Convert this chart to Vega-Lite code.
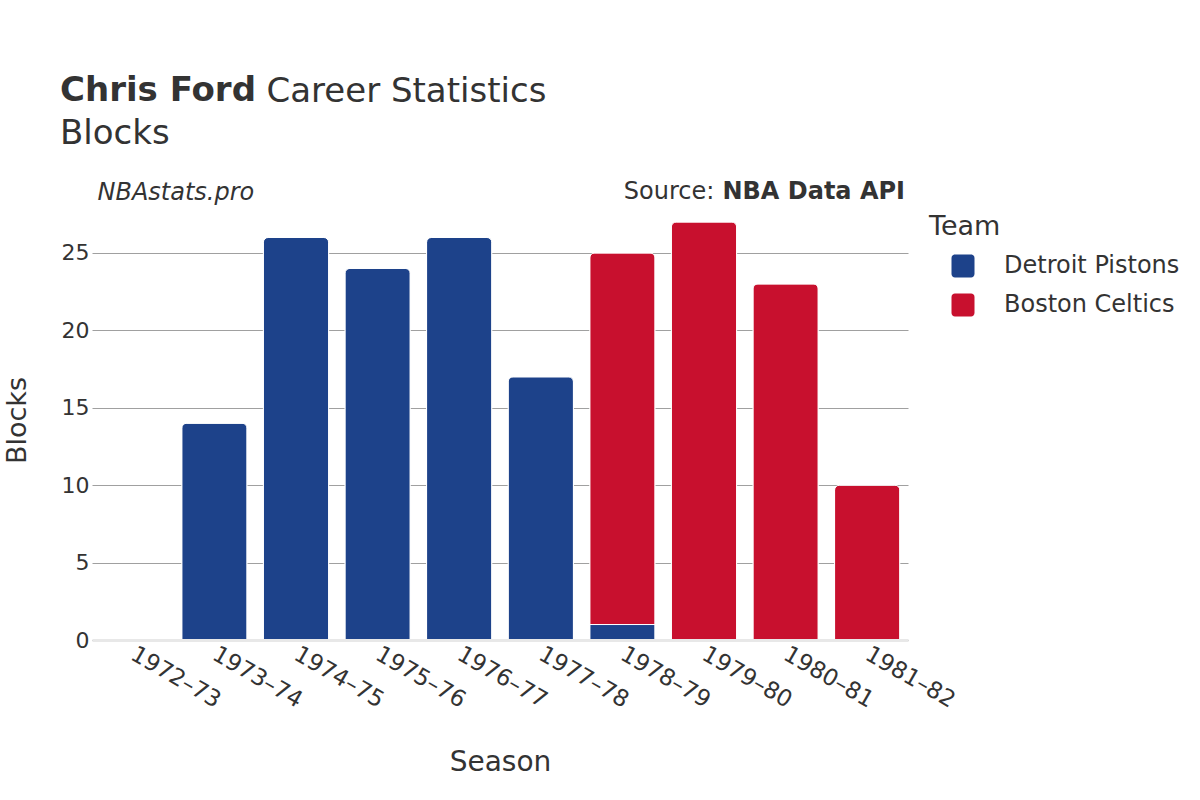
{
  "$schema": "https://vega.github.io/schema/vega-lite/v6.json",
  "autosize": {"type": "pad"},
  "padding": {"left": 3, "top": 74, "right": 0, "bottom": 0},
  "background": "white",
  "bounds": "flush",
  "spacing": 0,
  "title": {
    "text": "Chris Ford",
    "subtitle": "Blocks",
    "anchor": "start",
    "frame": "group",
    "font": "DejaVu Sans",
    "fontSize": 34,
    "fontWeight": "bold",
    "color": "#333333",
    "subtitleFont": "DejaVu Sans",
    "subtitleFontSize": 34,
    "subtitleFontWeight": "normal",
    "subtitleColor": "#333333",
    "subtitlePadding": 9,
    "dx": -32,
    "dy": 81
  },
  "vconcat": [
    {
      "width": 816,
      "height": 440,
      "title": {
        "text": "NBA Data API",
        "subtitle": "Source:\u00a0\u00a0\u00a0\u00a0\u00a0\u00a0\u00a0\u00a0\u00a0\u00a0\u00a0\u00a0\u00a0\u00a0\u00a0\u00a0\u00a0\u00a0\u00a0\u00a0\u00a0\u00a0\u00a0\u00a0\u00a0\u200b",
        "anchor": "end",
        "frame": "group",
        "font": "DejaVu Sans",
        "fontSize": 24,
        "fontWeight": "bold",
        "color": "#333333",
        "subtitleFont": "DejaVu Sans",
        "subtitleFontSize": 24,
        "subtitleFontWeight": "normal",
        "subtitleColor": "#333333",
        "subtitlePadding": -24,
        "dx": -3,
        "dy": 134
      },
      "data": {
        "values": [
          {"season": "1972–73", "team": "Detroit Pistons", "blocks": 0},
          {"season": "1973–74", "team": "Detroit Pistons", "blocks": 14},
          {"season": "1974–75", "team": "Detroit Pistons", "blocks": 26},
          {"season": "1975–76", "team": "Detroit Pistons", "blocks": 24},
          {"season": "1976–77", "team": "Detroit Pistons", "blocks": 26},
          {"season": "1977–78", "team": "Detroit Pistons", "blocks": 17},
          {"season": "1978–79", "team": "Detroit Pistons", "blocks": 1},
          {"season": "1978–79", "team": "Boston Celtics", "blocks": 24},
          {"season": "1979–80", "team": "Boston Celtics", "blocks": 27},
          {"season": "1980–81", "team": "Boston Celtics", "blocks": 23},
          {"season": "1981–82", "team": "Boston Celtics", "blocks": 10}
        ]
      },
      "layer": [
        {
          "mark": {"type": "bar", "cornerRadiusTopLeft": 5, "cornerRadiusTopRight": 5, "stroke": "white", "strokeWidth": 1},
          "encoding": {
            "x": {
              "field": "season",
              "type": "nominal",
              "scale": {"paddingInner": 0.2, "paddingOuter": 0.1},
              "axis": {
                "title": "Season",
                "labelAngle": 30,
                "labelAlign": "left",
                "labelBaseline": "middle",
                "labelPadding": 12,
                "labelFont": "DejaVu Sans",
                "labelFontSize": 23,
                "labelColor": "#333333",
                "ticks": false,
                "tickSize": 0,
                "domainColor": "#e8e8e8",
                "domainWidth": 3,
                "titleFont": "DejaVu Sans",
                "titleFontSize": 28,
                "titleFontWeight": "normal",
                "titleColor": "#333333",
                "titleX": 408,
                "titleY": 130,
                "titleAlign": "center",
                "titleBaseline": "alphabetic",
                "zindex": 1
              }
            },
            "y": {
              "field": "blocks",
              "type": "quantitative",
              "stack": "zero",
              "scale": {"domain": [0, 28.42], "nice": false, "zero": true},
              "axis": {
                "title": "Blocks",
                "values": [0, 5, 10, 15, 20, 25],
                "labelFont": "DejaVu Sans",
                "labelFontSize": 22,
                "labelColor": "#333333",
                "labelPadding": 3,
                "ticks": false,
                "tickSize": 0,
                "domain": false,
                "gridColor": "#a0a0a0",
                "gridWidth": 1,
                "titleFont": "DejaVu Sans",
                "titleFontSize": 27,
                "titleFontWeight": "normal",
                "titleColor": "#333333",
                "titleX": -75,
                "titleY": 220,
                "titleAngle": -90,
                "titleAlign": "center",
                "titleBaseline": "middle"
              }
            },
            "color": {
              "field": "team",
              "type": "nominal",
              "sort": ["Detroit Pistons", "Boston Celtics"],
              "scale": {"domain": ["Detroit Pistons", "Boston Celtics"], "range": ["#1D428A", "#C8102E"]},
              "legend": {
                "orient": "none",
                "legendX": 837,
                "legendY": 14,
                "title": "Team",
                "titleFont": "DejaVu Sans",
                "titleFontSize": 27,
                "titleFontWeight": "normal",
                "titleColor": "#333333",
                "titlePadding": 13,
                "labelFont": "DejaVu Sans",
                "labelFontSize": 24,
                "labelColor": "#333333",
                "labelLimit": 400,
                "symbolType": "M-0.7,-1H0.7A0.3,0.3 0 0 1 1,-0.7V0.7A0.3,0.3 0 0 1 0.7,1H-0.7A0.3,0.3 0 0 1 -1,0.7V-0.7A0.3,0.3 0 0 1 -0.7,-1Z",
                "symbolSize": 529,
                "symbolOffset": 22,
                "symbolStrokeWidth": 0,
                "symbolOpacity": 1,
                "labelOffset": 29,
                "rowPadding": 15,
                "padding": 0
              }
            },
            "order": {"field": "team", "sort": "descending"}
          }
        },
        {
          "mark": {"type": "tick", "opacity": 0},
          "encoding": {
            "x": {
              "field": "season",
              "type": "nominal",
              "axis": {
                "orient": "top",
                "labels": false,
                "ticks": false,
                "domain": false,
                "grid": false,
                "title": "Career Statistics",
                "titleX": 174,
                "titleY": -99,
                "titleAlign": "left",
                "titleBaseline": "alphabetic",
                "titleAngle": 0,
                "titleFont": "DejaVu Sans",
                "titleFontSize": 34,
                "titleFontWeight": "normal",
                "titleColor": "#333333"
              }
            },
            "y": {
              "field": "blocks",
              "type": "quantitative",
              "axis": {
                "orient": "right",
                "labels": false,
                "ticks": false,
                "domain": false,
                "grid": false,
                "title": "NBAstats.pro",
                "titleX": -811,
                "titleY": -1,
                "titleAngle": 0,
                "titleAlign": "left",
                "titleBaseline": "alphabetic",
                "titleFont": "DejaVu Sans",
                "titleFontStyle": "italic",
                "titleFontSize": 24,
                "titleFontWeight": "normal",
                "titleColor": "#333333"
              }
            }
          }
        }
      ],
      "resolve": {"axis": {"x": "independent", "y": "independent"}}
    }
  ],
  "config": {"view": {"stroke": null}, "font": "DejaVu Sans"}
}
